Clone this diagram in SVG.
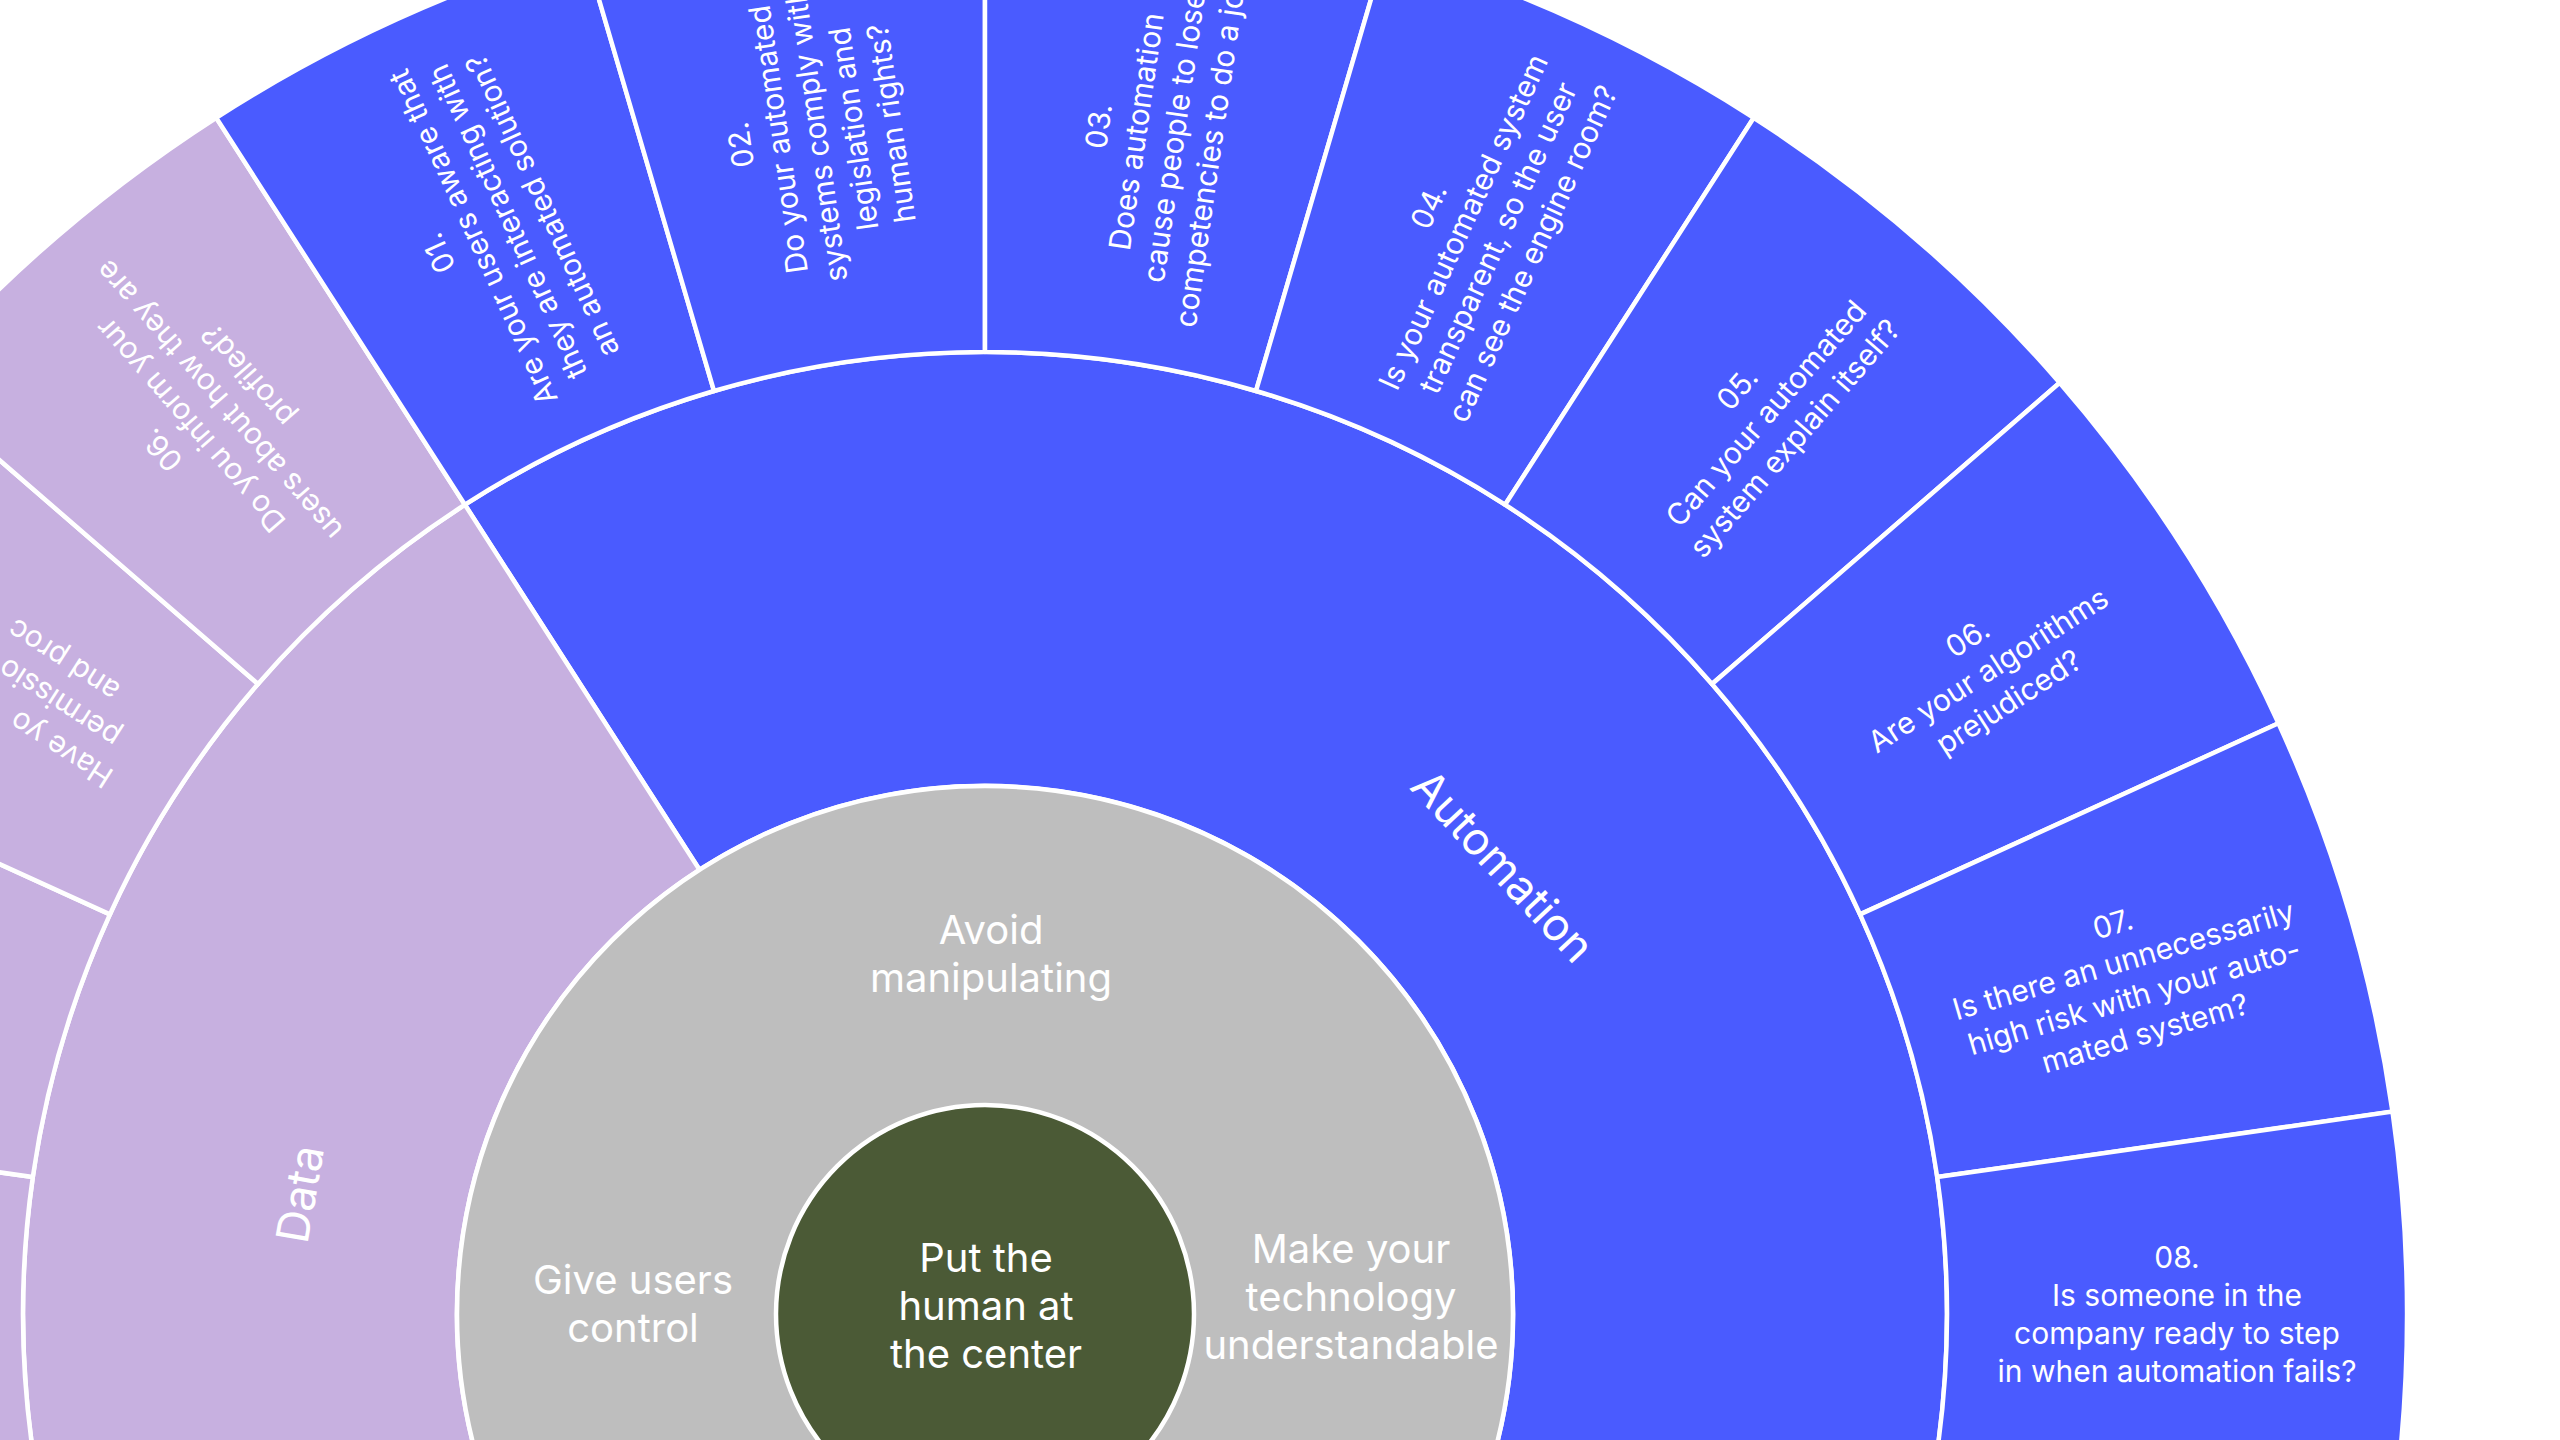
<svg xmlns="http://www.w3.org/2000/svg" xmlns:xlink="http://www.w3.org/1999/xlink" width="2560" height="1440" viewBox="0 0 2560 1440">
  <style>
    .sep { stroke: #ffffff; stroke-width: 4.5; stroke-linejoin: round; }
    .auto { fill: #4A5BFF; }
    .data { fill: #C7B0E0; }
    .core { fill: #BEBEBE; }
    .hub { fill: #4B5A36; }
    text { font-family: "Inter", "Liberation Sans", sans-serif; fill: #ffffff; }
    .q { font-size: 30px; text-anchor: middle; }
    .qs { font-size: 30px; text-anchor: start; }
    .cat { font-size: 45px; text-anchor: middle; }
    .lbl { font-size: 40px; text-anchor: middle; }
  </style>
  <defs>
    <!-- one outer-ring cell, centred on the 0 degree axis, 360/22 degrees wide -->
    <path id="cell" d="M 952.2 -136.9 L 1407.5 -202.4 A 1422 1422 0 0 1 1407.5 202.4 L 952.2 136.9 A 962 962 0 0 0 952.2 -136.9 Z"/>
  </defs>

  <rect width="2560" height="1440" fill="#ffffff"/>

  <!-- middle ring: categories -->
  <g id="cat-automation" transform="translate(985 1314)">
    <path class="auto sep" d="M -285.5 -444.2 L -520.1 -809.3 A 962 962 0 0 1 727.0 630.0 L 399.0 345.8 A 528 528 0 0 0 -285.5 -444.2 Z"/>
  </g>
  <g id="cat-data" transform="translate(985 1314)">
    <path class="data sep" d="M -399.0 345.8 L -727.0 630.0 A 962 962 0 0 1 -520.1 -809.3 L -285.5 -444.2 A 528 528 0 0 0 -399.0 345.8 Z"/>
  </g>

  <!-- outer ring: questions, each cell rotated about the centre -->
  <g id="data-03" transform="translate(985 1314) rotate(-180)">
    <use xlink:href="#cell" class="data sep"/>
  </g>
  <g id="data-04" transform="translate(985 1314) rotate(-163.636)">
    <use xlink:href="#cell" class="data sep"/>
  </g>
  <g id="data-05" transform="translate(985 1314) rotate(-147.273)">
    <use xlink:href="#cell" class="data sep"/>
    <text class="qs"><tspan x="1025" y="-14">Have yo</tspan><tspan x="1040" y="24">permissio</tspan><tspan x="1066" y="62">and proc</tspan></text>
  </g>
  <g id="data-06" transform="translate(985 1314) rotate(-130.909)">
    <use xlink:href="#cell" class="data sep"/>
    <text class="q"><tspan x="1192" y="-46">06.</tspan><tspan x="1192" y="-8">Do you inform your</tspan><tspan x="1192" y="30">users about how they are</tspan><tspan x="1192" y="68">profiled?</tspan></text>
  </g>
  <g id="auto-01" transform="translate(985 1314) rotate(-114.545)">
    <use xlink:href="#cell" class="auto sep"/>
    <text class="q"><tspan x="1192" y="-46">01.</tspan><tspan x="1192" y="-8">Are your users aware that</tspan><tspan x="1192" y="30">they are interacting with</tspan><tspan x="1192" y="68">an automated solution?</tspan></text>
  </g>
  <g id="auto-02" transform="translate(985 1314) rotate(-98.182)">
    <use xlink:href="#cell" class="auto sep"/>
    <text class="q"><tspan x="1192" y="-65">02.</tspan><tspan x="1192" y="-27">Do your automated</tspan><tspan x="1192" y="11">systems comply with</tspan><tspan x="1192" y="49">legislation and</tspan><tspan x="1192" y="87">human rights?</tspan></text>
  </g>
  <g id="auto-03" transform="translate(985 1314) rotate(-81.818)">
    <use xlink:href="#cell" class="auto sep"/>
    <text class="q"><tspan x="1192" y="-46">03.</tspan><tspan x="1192" y="-8">Does automation</tspan><tspan x="1192" y="30">cause people to lose</tspan><tspan x="1192" y="68">competencies to do a job?</tspan></text>
  </g>
  <g id="auto-04" transform="translate(985 1314) rotate(-65.455)">
    <use xlink:href="#cell" class="auto sep"/>
    <text class="q"><tspan x="1192" y="-46">04.</tspan><tspan x="1192" y="-8">Is your automated system</tspan><tspan x="1192" y="30">transparent, so the user</tspan><tspan x="1192" y="68">can see the engine room?</tspan></text>
  </g>
  <g id="auto-05" transform="translate(985 1314) rotate(-49.091)">
    <use xlink:href="#cell" class="auto sep"/>
    <text class="q"><tspan x="1192" y="-27">05.</tspan><tspan x="1192" y="11">Can your automated</tspan><tspan x="1192" y="49">system explain itself?</tspan></text>
  </g>
  <g id="auto-06" transform="translate(985 1314) rotate(-32.727)">
    <use xlink:href="#cell" class="auto sep"/>
    <text class="q"><tspan x="1192" y="-27">06.</tspan><tspan x="1192" y="11">Are your algorithms</tspan><tspan x="1192" y="49">prejudiced?</tspan></text>
  </g>
  <g id="auto-07" transform="translate(985 1314) rotate(-16.364)">
    <use xlink:href="#cell" class="auto sep"/>
    <text class="q"><tspan x="1192" y="-46">07.</tspan><tspan x="1192" y="-8">Is there an unnecessarily</tspan><tspan x="1192" y="30">high risk with your auto-</tspan><tspan x="1192" y="68">mated system?</tspan></text>
  </g>
  <g id="auto-08" transform="translate(985 1314)">
    <use xlink:href="#cell" class="auto sep"/>
    <text class="q"><tspan x="1192" y="-46">08.</tspan><tspan x="1192" y="-8">Is someone in the</tspan><tspan x="1192" y="30">company ready to step</tspan><tspan x="1192" y="68">in when automation fails?</tspan></text>
  </g>

  <!-- category labels -->
  <text class="cat" transform="translate(1503 866) rotate(47)" y="16">Automation</text>
  <text class="cat" transform="translate(300 1194) rotate(-80)" y="16">Data</text>

  <!-- inner ring: principles -->
  <g id="principles">
    <circle class="core sep" cx="985" cy="1314" r="528"/>
    <text class="lbl"><tspan x="991" y="944">Avoid</tspan><tspan x="991" y="992">manipulating</tspan></text>
    <text class="lbl"><tspan x="633" y="1294">Give users</tspan><tspan x="633" y="1342">control</tspan></text>
    <text class="lbl"><tspan x="1351" y="1263">Make your</tspan><tspan x="1351" y="1311">technology</tspan><tspan x="1351" y="1359">understandable</tspan></text>
  </g>

  <!-- hub -->
  <g id="hub">
    <circle class="hub sep" cx="985" cy="1314" r="209"/>
    <text class="lbl"><tspan x="986" y="1272">Put the</tspan><tspan x="986" y="1320">human at</tspan><tspan x="986" y="1368">the center</tspan></text>
  </g>
</svg>
